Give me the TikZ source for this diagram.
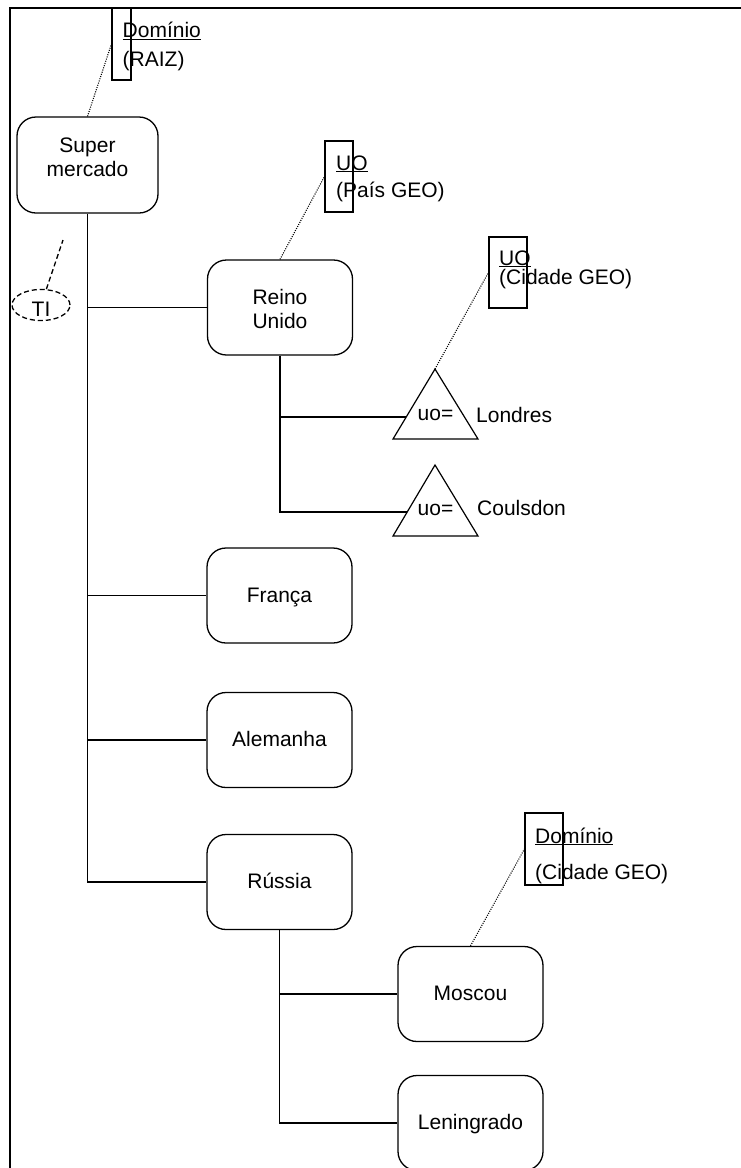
\documentclass[tikz,border=0pt]{standalone}
\usepackage{fontspec}
\setmainfont{Liberation Sans}
\usetikzlibrary{calc,shapes.geometric}
\begin{document}
\begin{tikzpicture}[x=1pt,y=-1pt,
  every node/.style={font=\fontsize{21}{24}\selectfont},
  box/.style={draw,line width=1.3pt,rounded corners=19pt,minimum width=145pt,
    minimum height=95pt,align=center,inner sep=0pt,text height=16pt,text depth=3pt},
  notebox/.style={draw,line width=1.1pt,inner sep=0pt},
  note/.style={anchor=base west,inner sep=0pt},
  plain/.style={inner sep=0pt},
  link/.style={line width=1.3pt},
  dots/.style={line width=1.1pt,dash pattern=on 1pt off 1.3pt},
  dashline/.style={line width=1.3pt,dash pattern=on 5pt off 3pt},
  tri/.style={line width=1.2pt,line join=miter}
]
\useasboundingbox (0,0) rectangle (741,1168);

% outer frame (top and left edges)
\draw[line width=2pt] (741,7.5) -- (10,7.5) -- (10,1168);

% hierarchy boxes
\node[box,minimum width=141pt,minimum height=96pt,text height=40pt,text depth=17pt]
  (super) at (87.5,165) {Super\\mercado};
\node[box,text height=42pt,text depth=0pt] (reino) at (280,307.5) {Reino\\Unido};
\node[box] (franca) at (279.5,595.5) {França};
\node[box] (alemanha) at (279.5,740) {Alemanha};
\node[box] (russia) at (279.5,882) {Rússia};
\node[box] (moscou) at (470.5,994) {Moscou};
\node[box] (leningrado) at (470.5,1123) {Leningrado};

% annotation boxes and their texts
\node[notebox,minimum width=19pt,minimum height=72pt] (dom1) at (121.5,44) {};
\node[note] (dom1a) at (122.5,37.5) {\underline{Domínio}};
\node[note] (dom1b) at (122.5,66) {(RAIZ)};

\node[notebox,minimum width=28pt,minimum height=71pt] (uo1) at (339,176.5) {};
\node[note] (uo1a) at (336,170) {\underline{UO}};
\node[note] (uo1b) at (336,197) {(País GEO)};

\node[notebox,minimum width=38pt,minimum height=71pt] (uo2) at (508,272.5) {};
\node[note] (uo2a) at (499,265) {\underline{UO}};
\node[note] (uo2b) at (499,284) {(Cidade GEO)};

\node[notebox,minimum width=38pt,minimum height=72pt] (dom2) at (544,849) {};
\node[note] (dom2a) at (535,843) {\underline{Domínio}};
\node[note] (dom2b) at (535,879) {(Cidade GEO)};

% TI marker
\node[draw,ellipse,dashline,minimum width=58pt,minimum height=26pt,inner sep=0pt,
  text height=22pt,text depth=0pt] (ti) at (41,305) {TI};
\coordinate (tiend) at (63,240);
\draw[dashline] (ti) -- (tiend);

% organisational units under Reino Unido
\coordinate (lonA) at (435,369);
\coordinate (lonL) at (393,439);
\coordinate (lonR) at (478,439);
\draw[tri] (lonA) -- (lonR) -- (lonL) -- cycle;
\coordinate (lonin) at ($(lonL)!0.314!(lonA)$);
\node[plain] (lonuo) at (435.5,415) {uo=};
\node[plain,anchor=west] (londres) at (476,415) {Londres};

\coordinate (couA) at (435,465);
\coordinate (couL) at (393,536);
\coordinate (couR) at (478,536);
\draw[tri] (couA) -- (couR) -- (couL) -- cycle;
\coordinate (couin) at ($(couL)!0.338!(couA)$);
\node[plain] (couuo) at (435.5,510) {uo=};
\node[plain,anchor=west] (coulsdon) at (477,508) {Coulsdon};

% main trunk and branches
\draw[link] (super.south) |- (russia.west);
\draw[link] (super.south |- reino.west) -- (reino.west);
\draw[link] (super.south |- franca.west) -- (franca.west);
\draw[link] (super.south |- alemanha.west) -- (alemanha.west);

% Reino Unido sub-branches
\draw[link] (reino.south) |- (couin);
\draw[link] (reino.south |- lonin) -- (lonin);

% Rússia sub-branches
\draw[link] (russia.south) |- (leningrado.west);
\draw[link] (russia.south |- moscou.west) -- (moscou.west);

% dotted annotation links
\draw[dots] (super.north) -- (dom1.west);
\draw[dots] (reino.north) -- (uo1.west);
\draw[dots] (lonA) -- (uo2.west);
\draw[dots] (moscou.north) -- (dom2.west);
\end{tikzpicture}
\end{document}
